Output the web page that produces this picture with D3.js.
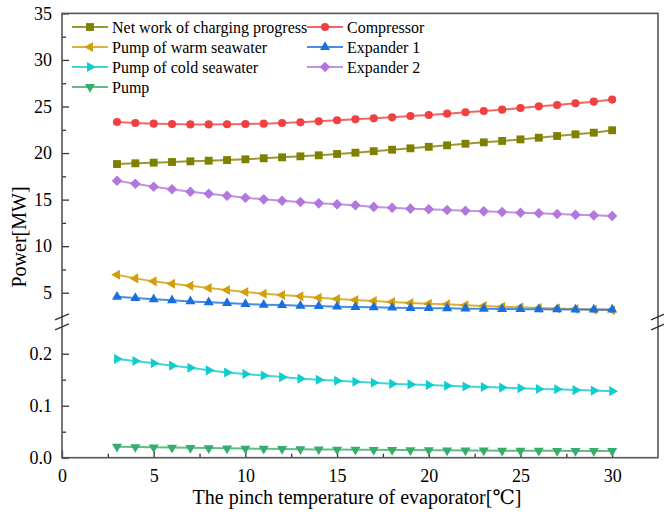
<!DOCTYPE html>
<html>
<head>
<meta charset="utf-8">
<script src="https://cdn.jsdelivr.net/npm/d3@7"></script>
<style>
  html, body { margin: 0; padding: 0; background: #fff; }
  svg text { font-family: "Liberation Serif", "DejaVu Serif", serif; }
</style>
</head>
<body>
<svg id="chart" width="664" height="512"></svg>
<script>
// Pinch temperature of the evaporator [°C]
const pinchTemp = d3.range(3, 31);

// Power of each component [MW]
const netWork = [18.82, 18.90, 18.97, 19.04, 19.11, 19.18, 19.25, 19.33, 19.44, 19.54,
  19.65, 19.76, 19.90, 20.04, 20.20, 20.36, 20.51, 20.67, 20.83, 21.00, 21.15, 21.30,
  21.47, 21.65, 21.83, 22.01, 22.19, 22.45];
const compressor = [23.33, 23.23, 23.16, 23.12, 23.08, 23.08, 23.10, 23.12, 23.16, 23.23,
  23.30, 23.41, 23.52, 23.62, 23.73, 23.84, 23.98, 24.09, 24.23, 24.38, 24.52, 24.66,
  24.84, 25.02, 25.16, 25.34, 25.52, 25.74];
const pumpWarm = [6.93, 6.54, 6.22, 5.97, 5.75, 5.50, 5.29, 5.07, 4.89, 4.75, 4.61, 4.46,
  4.32, 4.21, 4.11, 4.00, 3.89, 3.82, 3.75, 3.65, 3.57, 3.50, 3.43, 3.36, 3.31, 3.25,
  3.18, 3.12];
const expander1 = [4.57, 4.43, 4.29, 4.18, 4.07, 3.97, 3.89, 3.79, 3.71, 3.67, 3.60, 3.57,
  3.50, 3.46, 3.43, 3.39, 3.36, 3.34, 3.32, 3.29, 3.27, 3.25, 3.23, 3.22, 3.21, 3.20,
  3.20, 3.19];
const expander2 = [17.03, 16.71, 16.39, 16.11, 15.85, 15.63, 15.42, 15.20, 15.03, 14.88,
  14.74, 14.60, 14.49, 14.39, 14.22, 14.12, 14.03, 13.96, 13.88, 13.81, 13.74, 13.67,
  13.59, 13.53, 13.45, 13.38, 13.31, 13.24];
const pumpCold = [0.190, 0.186, 0.1815, 0.177, 0.173, 0.168, 0.164, 0.161, 0.158, 0.155,
  0.152, 0.150, 0.148, 0.146, 0.144, 0.142, 0.141, 0.140, 0.1385, 0.137, 0.136, 0.1348,
  0.1335, 0.132, 0.1315, 0.130, 0.129, 0.128];
const pump = [0.0210, 0.0205, 0.0200, 0.0195, 0.0190, 0.0185, 0.0180, 0.0176, 0.0172,
  0.0168, 0.0164, 0.0160, 0.0157, 0.0154, 0.0151, 0.0148, 0.0146, 0.0144, 0.0142, 0.0140,
  0.0138, 0.0136, 0.0134, 0.0133, 0.0132, 0.0131, 0.0130, 0.0129];

// Axis ticks
const xTicks = [0, 5, 10, 15, 20, 25, 30];
const xMinorTicks = [2.5, 7.5, 12.5, 17.5, 22.5, 27.5];
const yUpperTicks = [5, 10, 15, 20, 25, 30, 35];
const yUpperMinor = [7.5, 12.5, 17.5, 22.5, 27.5, 32.5];
const yLowerTicks = [0, 0.1, 0.2];
const yLowerMinor = [0.05, 0.15];

const xTitle = "The pinch temperature of evaporator[\u2103]";
const yTitle = "Power[MW]";

// Series in legend order; "panel" selects the upper or lower part of the broken axis
const series = [
  { name: "Net work of charging progress", values: netWork, color: "#808000", marker: "square", panel: "upper" },
  { name: "Compressor", values: compressor, color: "#F14040", marker: "circle", panel: "upper" },
  { name: "Pump of warm seawater", values: pumpWarm, color: "#D19F0A", marker: "triLeft", panel: "upper" },
  { name: "Expander 1", values: expander1, color: "#1A6FDF", marker: "triUp", panel: "upper" },
  { name: "Pump of cold seawater", values: pumpCold, color: "#10CCCC", marker: "triRight", panel: "lower" },
  { name: "Expander 2", values: expander2, color: "#B177DE", marker: "diamond", panel: "upper" },
  { name: "Pump", values: pump, color: "#37AD6B", marker: "triDown", panel: "lower" }
];

const serif = "'Liberation Serif', 'DejaVu Serif', serif";
const svg = d3.select("#chart");
const plotL = 62, plotR = 658, plotT = 13.4, plotB = 457.7;
const upperBottom = 316, lowerTop = 327.7;

const x = d3.scaleLinear().domain([0, 32.5]).range([plotL, plotR]);
const yUpper = d3.scaleLinear().domain([2.5, 35]).range([upperBottom, plotT]);
const yLower = d3.scaleLinear().domain([0, 0.25]).range([plotB, lowerTop]);
const yFor = p => p === "upper" ? yUpper : yLower;

// Marker shapes
function markerPath(type) {
  switch (type) {
    case "square": return d3.symbol(d3.symbolSquare, 62)();
    case "circle": return d3.symbol(d3.symbolCircle, 52)();
    case "diamond": return d3.symbol(d3.symbolSquare, 56)();
    default: return d3.symbol(d3.symbolTriangle, 44)();
  }
}
function markerRotate(type) {
  return { triLeft: -90, triRight: 90, triDown: 180, diamond: 45 }[type] || 0;
}

// Axes (ticks point inward)
const axisColor = "#333";
function styleAxis(g) {
  g.attr("font-family", null);
  g.select(".domain").remove();
  g.selectAll("line").attr("stroke", axisColor).attr("stroke-width", 1.3);
  g.selectAll("text").attr("fill", "#000")
    .style("font-family", serif).style("font-size", "18px");
}

svg.append("g").attr("transform", `translate(0,${plotB})`)
  .call(d3.axisBottom(x).tickValues(xTicks).tickSize(-7).tickPadding(12).tickFormat(d3.format("d")))
  .call(styleAxis);
svg.append("g").attr("transform", `translate(0,${plotB})`)
  .call(d3.axisBottom(x).tickValues(xMinorTicks).tickSize(-4).tickFormat(""))
  .call(styleAxis);

svg.append("g").attr("transform", `translate(${plotL},0)`)
  .call(d3.axisLeft(yUpper).tickValues(yUpperTicks).tickSize(-7).tickPadding(10).tickFormat(d3.format("d")))
  .call(styleAxis);
svg.append("g").attr("transform", `translate(${plotL},0)`)
  .call(d3.axisLeft(yUpper).tickValues(yUpperMinor).tickSize(-4).tickFormat(""))
  .call(styleAxis);
svg.append("g").attr("transform", `translate(${plotL},0)`)
  .call(d3.axisLeft(yLower).tickValues(yLowerTicks).tickSize(-7).tickPadding(10).tickFormat(d3.format(".1f")))
  .call(styleAxis);
svg.append("g").attr("transform", `translate(${plotL},0)`)
  .call(d3.axisLeft(yLower).tickValues(yLowerMinor).tickSize(-4).tickFormat(""))
  .call(styleAxis);

// Plot frame
svg.append("rect")
  .attr("x", plotL).attr("y", plotT)
  .attr("width", plotR - plotL).attr("height", plotB - plotT)
  .attr("fill", "none").attr("stroke", "#555").attr("stroke-width", 1.6);

// Axis break marks on both sides
const breakMid = (upperBottom + lowerTop) / 2;
[plotL, plotR].forEach(bx => {
  [-5, 5].forEach(off => {
    svg.append("line")
      .attr("x1", bx - 7).attr("y1", breakMid + off + 3)
      .attr("x2", bx + 7).attr("y2", breakMid + off - 3)
      .attr("stroke", "#333").attr("stroke-width", 1.3);
  });
});

// Series lines and markers
series.forEach(s => {
  const y = yFor(s.panel);
  const pts = pinchTemp.map((t, i) => [t, s.values[i]]);
  const g = svg.append("g");
  g.append("path")
    .datum(pts)
    .attr("fill", "none")
    .attr("stroke", s.color)
    .attr("stroke-opacity", 0.8)
    .attr("stroke-width", 2)
    .attr("d", d3.line().x(d => x(d[0])).y(d => y(d[1])));
  g.selectAll("path.m")
    .data(pts)
    .join("path")
    .attr("class", "m")
    .attr("d", markerPath(s.marker))
    .attr("fill", s.color)
    .attr("transform", d => `translate(${x(d[0])},${y(d[1])}) rotate(${markerRotate(s.marker)})`);
});

// Legend (two columns)
const legend = svg.append("g");
series.forEach((s, i) => {
  const col = i % 2, row = Math.floor(i / 2);
  const lx = col === 0 ? 72 : 307;
  const ly = 27 + row * 20;
  const item = legend.append("g").attr("transform", `translate(${lx},${ly})`);
  item.append("line").attr("x1", 0).attr("x2", 36).attr("y1", 0).attr("y2", 0)
    .attr("stroke", s.color).attr("stroke-opacity", 0.8).attr("stroke-width", 2);
  item.append("path").attr("d", markerPath(s.marker)).attr("fill", s.color)
    .attr("transform", `translate(18,0) rotate(${markerRotate(s.marker)})`);
  item.append("text").attr("x", 40).attr("y", 0).attr("dy", "0.35em")
    .style("font-family", serif).style("font-size", "16px")
    .attr("fill", "#000").text(s.name);
});

// Axis titles
svg.append("text")
  .attr("x", (plotL + plotR) / 2 - 3).attr("y", 504)
  .attr("text-anchor", "middle")
  .style("font-family", serif).style("font-size", "20px").text(xTitle);
svg.append("text")
  .attr("transform", `translate(26,237) rotate(-90)`)
  .attr("text-anchor", "middle")
  .style("font-family", serif).style("font-size", "20px").text(yTitle);
</script>
</body>
</html>
